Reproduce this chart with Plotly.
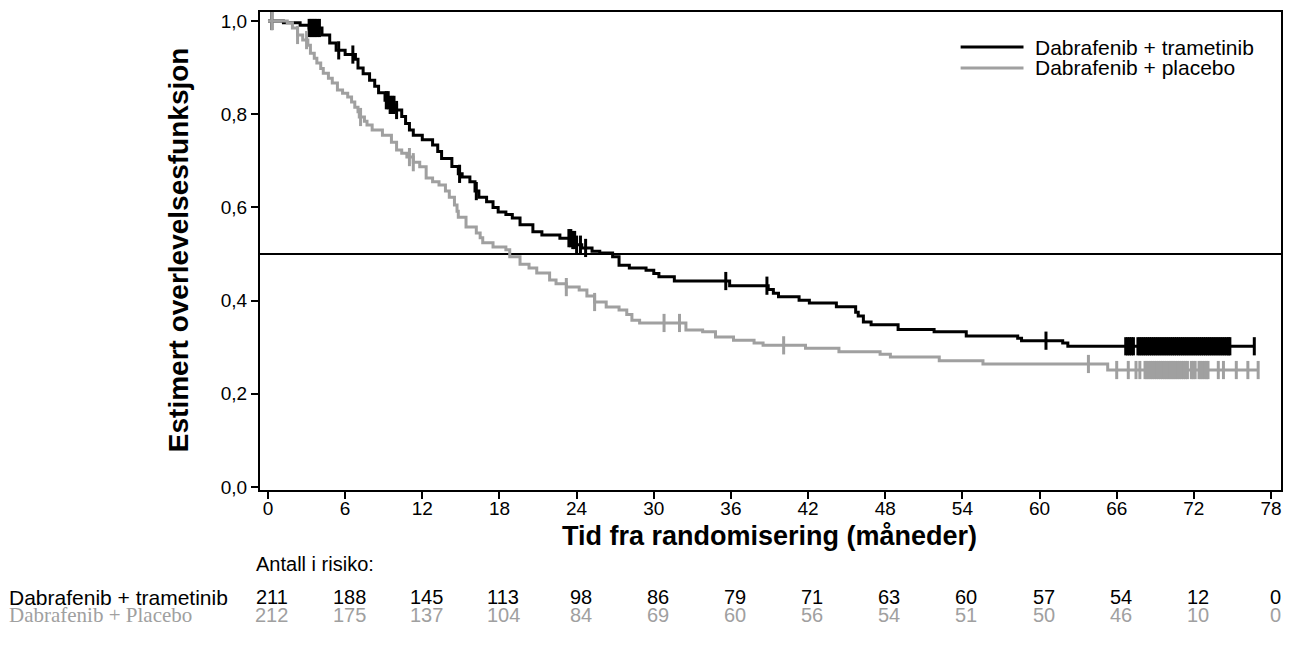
import numpy as np
import plotly.graph_objects as go

# ---------------- data ----------------
# Dabrafenib + trametinib: step times (months) and survival after the step
t_dt = [0, 1.2, 2.5, 3.2, 4.2, 4.8, 5.3, 6.0, 6.8, 7.0, 7.4, 7.9, 8.3, 8.6, 9.1, 9.5,
        10.0, 10.4, 10.7, 11.0, 11.3, 12.0, 12.8, 13.2, 13.5, 14.3, 14.8, 15.1, 15.7,
        16.1, 16.4, 17.0, 17.5, 17.9, 18.5, 19.0, 19.6, 20.6, 21.3, 22.7, 23.6, 23.9,
        24.4, 25.2, 25.8, 26.8, 27.3, 28.1, 29.4, 30.0, 30.4, 31.6, 35.9, 38.9, 39.3,
        39.7, 41.3, 42.1, 44.2, 45.7, 45.9, 46.3, 46.9, 49.0, 51.8, 54.3, 58.3, 58.6,
        61.8, 62.2, 76.7]
s_dt = [1.0, 0.996, 0.991, 0.985, 0.970, 0.953, 0.937, 0.928, 0.918, 0.899, 0.887, 0.873,
        0.860, 0.846, 0.830, 0.820, 0.809, 0.795, 0.780, 0.766, 0.755, 0.745, 0.734, 0.720,
        0.705, 0.688, 0.672, 0.665, 0.655, 0.635, 0.622, 0.612, 0.600, 0.590, 0.585, 0.577,
        0.563, 0.548, 0.541, 0.534, 0.530, 0.520, 0.513, 0.506, 0.502, 0.494, 0.476, 0.470,
        0.465, 0.458, 0.451, 0.442, 0.432, 0.424, 0.416, 0.408, 0.401, 0.395, 0.387, 0.375,
        0.367, 0.354, 0.348, 0.338, 0.333, 0.324, 0.319, 0.314, 0.309, 0.302, 0.302]
cens_dt = [0.3, 3.2, 3.35, 3.5, 3.65, 3.8, 4.0, 5.5, 6.6, 9.2, 9.35, 9.5, 9.65, 9.8, 10.0,
           14.9, 16.2, 23.4, 23.55, 23.7, 23.85, 24.0, 24.3, 24.7, 35.6, 38.8, 60.5,
           66.7, 66.85, 67.0, 67.15, 67.3, 67.65, 67.8, 67.95, 68.1, 68.25, 68.4, 68.55,
           68.7, 68.85, 69.0, 69.15, 69.3, 69.45, 69.6, 69.75, 69.9, 70.05, 70.2, 70.35,
           70.5, 70.65, 70.8, 70.95, 71.1, 71.25, 71.4, 71.55, 71.7, 71.85, 72.0, 72.15,
           72.3, 72.45, 72.6, 72.75, 72.9, 73.05, 73.2, 73.35, 73.5, 73.65, 73.8, 73.95,
           74.1, 74.25, 74.4, 74.55, 74.7, 74.8, 76.7]

# Dabrafenib + placebo
t_dp = [0, 1.5, 1.9, 2.3, 2.7, 3.1, 3.3, 3.6, 3.8, 4.1, 4.3, 4.7, 5.0, 5.4, 5.8, 6.2, 6.5,
        6.75, 7.0, 7.1, 7.5, 7.7, 8.1, 8.9, 9.6, 10.0, 10.4, 10.8, 11.3, 11.8, 12.3, 12.8,
        13.3, 13.8, 14.1, 14.5, 14.7, 14.8, 15.4, 16.2, 16.5, 16.7, 17.5, 18.5, 18.8, 19.6,
        20.3, 20.9, 21.9, 22.4, 23.2, 24.2, 24.8, 25.4, 26.3, 27.3, 27.9, 28.3, 28.9, 32.5,
        33.8, 34.8, 36.2, 37.8, 38.5, 41.8, 44.4, 47.6, 48.4, 52.2, 55.6, 65.3, 77.0]
s_dp = [1.0, 0.996, 0.985, 0.970, 0.959, 0.948, 0.931, 0.920, 0.910, 0.898, 0.888, 0.877,
        0.867, 0.852, 0.845, 0.837, 0.826, 0.815, 0.805, 0.794, 0.785, 0.777, 0.766, 0.755,
        0.740, 0.723, 0.716, 0.708, 0.697, 0.687, 0.663, 0.655, 0.648, 0.635, 0.622, 0.605,
        0.592, 0.579, 0.558, 0.545, 0.535, 0.524, 0.515, 0.509, 0.494, 0.478, 0.470, 0.459,
        0.444, 0.436, 0.429, 0.423, 0.410, 0.397, 0.386, 0.380, 0.370, 0.358, 0.352, 0.337,
        0.333, 0.322, 0.315, 0.309, 0.304, 0.298, 0.290, 0.285, 0.279, 0.271, 0.264, 0.251,
        0.251]
cens_dp = [0.3, 2.3, 3.0, 7.2, 11.0, 11.3, 23.2, 25.4, 30.8, 32.0, 40.1, 63.8, 66.0, 66.9,
           67.5, 67.8, 68.2, 68.35, 68.5, 68.65, 68.8, 68.95, 69.1, 69.25, 69.4, 69.55,
           69.7, 69.85, 70.0, 70.15, 70.3, 70.45, 70.6, 70.75, 70.9, 71.05, 71.2, 71.35,
           71.5, 71.8, 71.95, 72.1, 72.4, 72.55, 72.7, 72.85, 73.0, 73.1, 73.9, 74.3, 75.3,
           76.2, 77.0]

month_ticks = [0, 6, 12, 18, 24, 30, 36, 42, 48, 54, 60, 66, 72, 78]
risk_dt = [211, 188, 145, 113, 98, 86, 79, 71, 63, 60, 57, 54, 12, 0]
risk_dp = [212, 175, 137, 104, 84, 69, 60, 56, 54, 51, 50, 46, 10, 0]
y_ticks = [0.0, 0.2, 0.4, 0.6, 0.8, 1.0]
y_tick_text = ["0,0", "0,2", "0,4", "0,6", "0,8", "1,0"]

name_dt = "Dabrafenib + trametinib"
name_dp = "Dabrafenib + placebo"
risk_label_dt = "Dabrafenib + trametinib"
risk_label_dp = "Dabrafenib + Placebo"

BLACK = "#000000"
GRAY = "#a0a0a0"
SANS = "Arial, 'Liberation Sans', sans-serif"
SERIF = "'Times New Roman', 'Liberation Serif', serif"


def step_value(times, surv, at):
    times = np.asarray(times)
    surv = np.asarray(surv)
    idx = np.searchsorted(times, np.asarray(at), side="right") - 1
    idx = np.clip(idx, 0, len(surv) - 1)
    return surv[idx]


fig = go.Figure()

for t, s, c, col, nm in [(t_dt, s_dt, cens_dt, BLACK, name_dt),
                         (t_dp, s_dp, cens_dp, GRAY, name_dp)]:
    fig.add_trace(go.Scatter(x=t, y=s, mode="lines", line=dict(color=col, width=3, shape="hv"),
                             name=nm, showlegend=False, hoverinfo="skip"))
    fig.add_trace(go.Scatter(x=c, y=step_value(t, s, c), mode="markers",
                             marker=dict(symbol="line-ns", size=13,
                                         line=dict(color=col, width=3)),
                             showlegend=False, hoverinfo="skip"))

W, H = 1293, 654
ML, MR, MT, MB = 260, 10, 12, 164
PW = W - ML - MR
PH = H - MT - MB


def px(xp):
    return (xp - ML) / PW


def py(yp):
    return (H - MB - yp) / PH


# median line at 0.5
fig.add_shape(type="line", xref="paper", yref="y", x0=0, x1=1, y0=0.5, y1=0.5,
              line=dict(color=BLACK, width=2), layer="below")

# legend (manual)
for yy, col, nm in [(47, BLACK, name_dt), (68, GRAY, name_dp)]:
    fig.add_shape(type="line", xref="paper", yref="paper", x0=px(962), x1=px(1025),
                  y0=py(yy), y1=py(yy), line=dict(color=col, width=3))
    fig.add_annotation(xref="paper", yref="paper", x=px(1035), y=py(yy), text=nm,
                       showarrow=False, xanchor="left", yanchor="middle",
                       font=dict(family=SANS, size=21, color="#000000"))

# axis titles
fig.add_annotation(xref="paper", yref="paper", x=px(178), y=py(250),
                   text="<b>Estimert overlevelsesfunksjon</b>", textangle=-90,
                   showarrow=False, xanchor="center", yanchor="middle",
                   font=dict(family=SANS, size=28, color="#000000"))
fig.add_annotation(xref="paper", yref="paper", x=px(770), y=py(536),
                   text="<b>Tid fra randomisering (måneder)</b>",
                   showarrow=False, xanchor="center", yanchor="middle",
                   font=dict(family=SANS, size=27, color="#000000"))

# risk table
fig.add_annotation(xref="paper", yref="paper", x=px(254), y=py(564),
                   text="Antall i risiko:", showarrow=False, xanchor="left",
                   yanchor="middle", font=dict(family=SANS, size=20, color="#000000"))
fig.add_annotation(xref="paper", yref="paper", x=px(7), y=py(597), text=risk_label_dt,
                   showarrow=False, xanchor="left", yanchor="middle",
                   font=dict(family=SANS, size=21, color="#000000"))
fig.add_annotation(xref="paper", yref="paper", x=px(7), y=py(615), text=risk_label_dp,
                   showarrow=False, xanchor="left", yanchor="middle",
                   font=dict(family=SERIF, size=21, color=GRAY))
for m, a, b in zip(month_ticks, risk_dt, risk_dp):
    fig.add_annotation(xref="x", yref="paper", x=m, y=py(597), text=str(a),
                       showarrow=False, xanchor="center", yanchor="middle", xshift=4,
                       font=dict(family=SANS, size=20, color="#000000"))
    fig.add_annotation(xref="x", yref="paper", x=m, y=py(615), text=str(b),
                       showarrow=False, xanchor="center", yanchor="middle", xshift=4,
                       font=dict(family=SANS, size=20, color=GRAY))

x0_px, x78_px = 268, 1273
ppm = (x78_px - x0_px) / 78.0
y0_px, y1_px = 487, 21
ppu = (y0_px - y1_px)
fig.update_layout(
    width=W, height=H,
    margin=dict(l=ML, r=MR, t=MT, b=MB, pad=0),
    paper_bgcolor="white", plot_bgcolor="white",
    showlegend=False,
    xaxis=dict(range=[-(x0_px - ML) / ppm, 78 + (W - MR - x78_px) / ppm],
               tickvals=month_ticks, ticktext=[str(v) for v in month_ticks],
               ticks="outside", ticklen=7, tickwidth=2, tickcolor=BLACK,
               showline=True, linewidth=2, linecolor=BLACK, mirror=True,
               showgrid=False, zeroline=False, ticklabelstandoff=-7,
               tickfont=dict(family=SANS, size=19, color="#000000")),
    yaxis=dict(range=[-((H - MB) - y0_px) / ppu, 1 + (y1_px - MT) / ppu],
               tickvals=y_ticks, ticktext=y_tick_text,
               ticks="outside", ticklen=7, tickwidth=2, tickcolor=BLACK,
               showline=True, linewidth=2, linecolor=BLACK, mirror=True,
               showgrid=False, zeroline=False,
               tickfont=dict(family=SANS, size=19, color="#000000")),
)

fig.write_html("out.html", config={"displayModeBar": False},
               post_script="document.body.style.margin='0px';")
